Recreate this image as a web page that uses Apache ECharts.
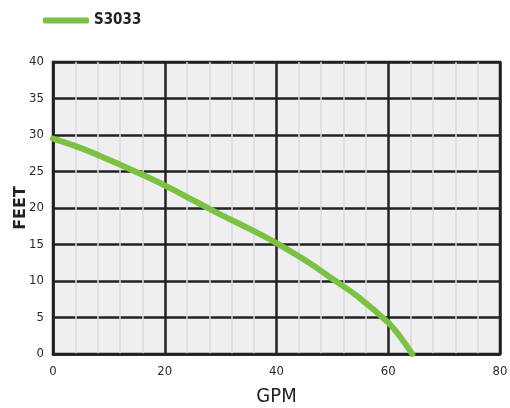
<!DOCTYPE html>
<html><head><meta charset="utf-8">
<script src="https://cdn.jsdelivr.net/npm/echarts@6/dist/echarts.min.js"></script>
<style>html,body{margin:0;padding:0;background:#fff}#c{width:510px;height:408px}</style>
</head><body><div id="c"></div>
<script>
const seriesName = 'S3033';
const gpm  = [0, 5, 10, 15, 20, 25, 30, 35, 40, 45, 50, 55, 60, 62, 64.3];
const feet = [29.5, 28.2, 26.6, 24.9, 23.1, 21.1, 19.1, 17.2, 15.2, 12.9, 10.3, 7.6, 4.3, 2.5, 0];
const xTitle = 'GPM';
const yTitle = 'FEET';

const chart = echarts.init(document.getElementById('c'), null, {renderer:'canvas'});
const cond = '"DejaVu Sans Condensed", "Liberation Sans Narrow", sans-serif';
const labelFont = {color:'#2a2a2a', fontSize:13, fontFamily:cond};
chart.setOption({
  animation:false,
  legend:{left:38, top:8, icon:'roundRect', itemWidth:46, itemHeight:6, itemGap:4,
    textStyle:{fontSize:15, fontWeight:'bold', color:'#222', fontFamily:cond},
    data:[seriesName]},
  grid:{left:53, right:10, top:62, bottom:54, outerBoundsMode:'none', containLabel:false,
    show:true, backgroundColor:'#efeff1', borderColor:'#222', borderWidth:2.5},
  xAxis:{type:'value', min:0, max:80, interval:20,
    name:xTitle, nameLocation:'middle', nameGap:33,
    nameTextStyle:{fontSize:20, color:'#222', fontFamily:cond},
    axisLine:{show:true, lineStyle:{color:'#222', width:2.5}}, axisTick:{show:false},
    axisLabel:Object.assign({margin:11}, labelFont),
    splitLine:{show:true, lineStyle:{color:'#222', width:2.5}},
    minorTick:{show:false, splitNumber:5},
    minorSplitLine:{show:true, lineStyle:{color:'#dadade', width:1.5}}},
  yAxis:{type:'value', min:0, max:40, interval:5,
    name:yTitle, nameLocation:'middle', nameGap:24, nameMoveOverlap:false,
    nameTextStyle:{fontSize:16, fontWeight:'bold', color:'#222', fontFamily:'"DejaVu Sans", sans-serif'},
    axisLine:{show:true, lineStyle:{color:'#222', width:2.5}}, axisTick:{show:false},
    axisLabel:Object.assign({margin:9}, labelFont),
    splitLine:{show:true, lineStyle:{color:'#222', width:2.5}}},
  series:[{name:seriesName, type:'line', smooth:0.4, showSymbol:false,
    lineStyle:{color:'#7cc242', width:6, cap:'round'}, itemStyle:{color:'#7cc242'},
    data:gpm.map((g,i)=>[g, feet[i]])}]
});
</script></body></html>
